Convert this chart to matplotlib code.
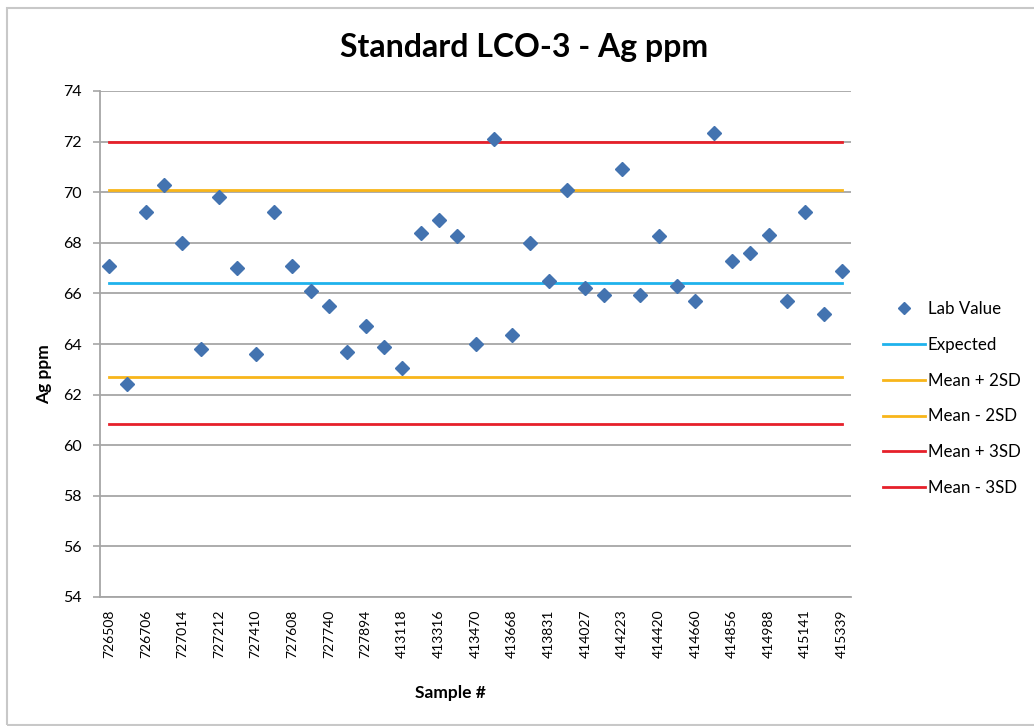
import numpy as np
import matplotlib
matplotlib.use('Agg')
import matplotlib.pyplot as plt
from matplotlib.lines import Line2D
from matplotlib.patches import Rectangle

plt.rcParams['font.family'] = ['Lato', 'DejaVu Sans']

# sample labels shown on the axis (every other category is labelled)
tick_labels = ['726508', '726706', '727014', '727212', '727410', '727608', '727740',
               '727894', '413118', '413316', '413470', '413668', '413831', '414027',
               '414223', '414420', '414660', '414856', '414988', '415141', '415339']

# lab values, one per sample
lab_value = [67.1, 62.4, 69.2, 70.3, 68.0, 63.8, 69.8, 67.0, 63.6, 69.2, 67.1,
             66.1, 65.5, 63.7, 64.7, 63.9, 63.05, 68.4, 68.9, 68.25, 64.0,
             72.1, 64.35, 68.0, 66.5, 70.1, 66.2, 65.95, 70.9, 65.95, 68.25,
             66.3, 65.7, 72.35, 67.3, 67.6, 68.3, 65.7, 69.2, 65.2, 66.9]

expected = 66.42
mean_plus_2sd = 70.1
mean_minus_2sd = 62.7
mean_plus_3sd = 72.0
mean_minus_3sd = 60.82

c_blue = '#4373B0'
c_expected = '#1FB2EC'
c_orange = '#F8B51A'
c_red = '#E6202A'
c_grid = '#A6A6A6'

n = len(lab_value)
x = np.arange(n)

fig = plt.figure(figsize=(10.34, 7.26), dpi=100)
ax = fig.add_axes([100 / 1034, 1 - 597 / 726, 751 / 1034, 506 / 726])

for val, col in [(mean_plus_3sd, c_red), (mean_minus_3sd, c_red),
                 (mean_plus_2sd, c_orange), (mean_minus_2sd, c_orange),
                 (expected, c_expected)]:
    ax.plot([x[0], x[-1]], [val, val], color=col, lw=2.0, zorder=3)

ax.plot(x, lab_value, linestyle='none', marker='D', ms=6.8,
        color=c_blue, zorder=4)

ax.set_xlim(-0.5, n - 0.5)
ax.set_ylim(54, 74)
ax.set_yticks(np.arange(54, 75, 2))
ax.yaxis.grid(True, color=c_grid, lw=1.3)
ax.set_axisbelow(True)
ax.set_xticks(x[::2])
ax.set_xticklabels(tick_labels, rotation=90, fontsize=10)
ax.tick_params(axis='x', length=0, pad=9)
ax.tick_params(axis='y', length=5, width=1.2, color=c_grid, labelsize=11.5, pad=8)

for side in ['top', 'right']:
    ax.spines[side].set_visible(False)
for side in ['left', 'bottom']:
    ax.spines[side].set_color(c_grid)
    ax.spines[side].set_linewidth(1.3)

ax.set_ylabel('Ag ppm', fontsize=12.5, fontweight='bold')
ax.yaxis.set_label_coords(-0.064, 0.44)
ax.set_xlabel('Sample #', fontsize=12.5, fontweight='bold')
ax.xaxis.set_label_coords(0.466, -0.173)

fig.text(0.507, 1 - 47 / 726, 'Standard LCO-3 - Ag ppm', ha='center', va='center',
         fontsize=23, fontweight='bold')

handles = [
    Line2D([], [], linestyle='none', marker='D', ms=6.5, color=c_blue),
    Line2D([], [], color=c_expected, lw=2.0),
    Line2D([], [], color=c_orange, lw=2.0),
    Line2D([], [], color=c_orange, lw=2.0),
    Line2D([], [], color=c_red, lw=2.0),
    Line2D([], [], color=c_red, lw=2.0),
]
labels = ['Lab Value', 'Expected', 'Mean + 2SD', 'Mean - 2SD', 'Mean + 3SD', 'Mean - 3SD']
fig.legend(handles, labels, loc='upper left', bbox_to_anchor=(883 / 1034, 1 - 301 / 726),
           frameon=False, fontsize=12.2, handlelength=2.5, handletextpad=0.15,
           labelspacing=1.17, borderpad=0, borderaxespad=0)

fig.patches.append(Rectangle((7 / 1034, 1 / 726), 1.1, 717 / 726, transform=fig.transFigure,
                             fill=False, edgecolor='#C8C8C8', lw=1.5))

fig.savefig('out.png', dpi=100)
